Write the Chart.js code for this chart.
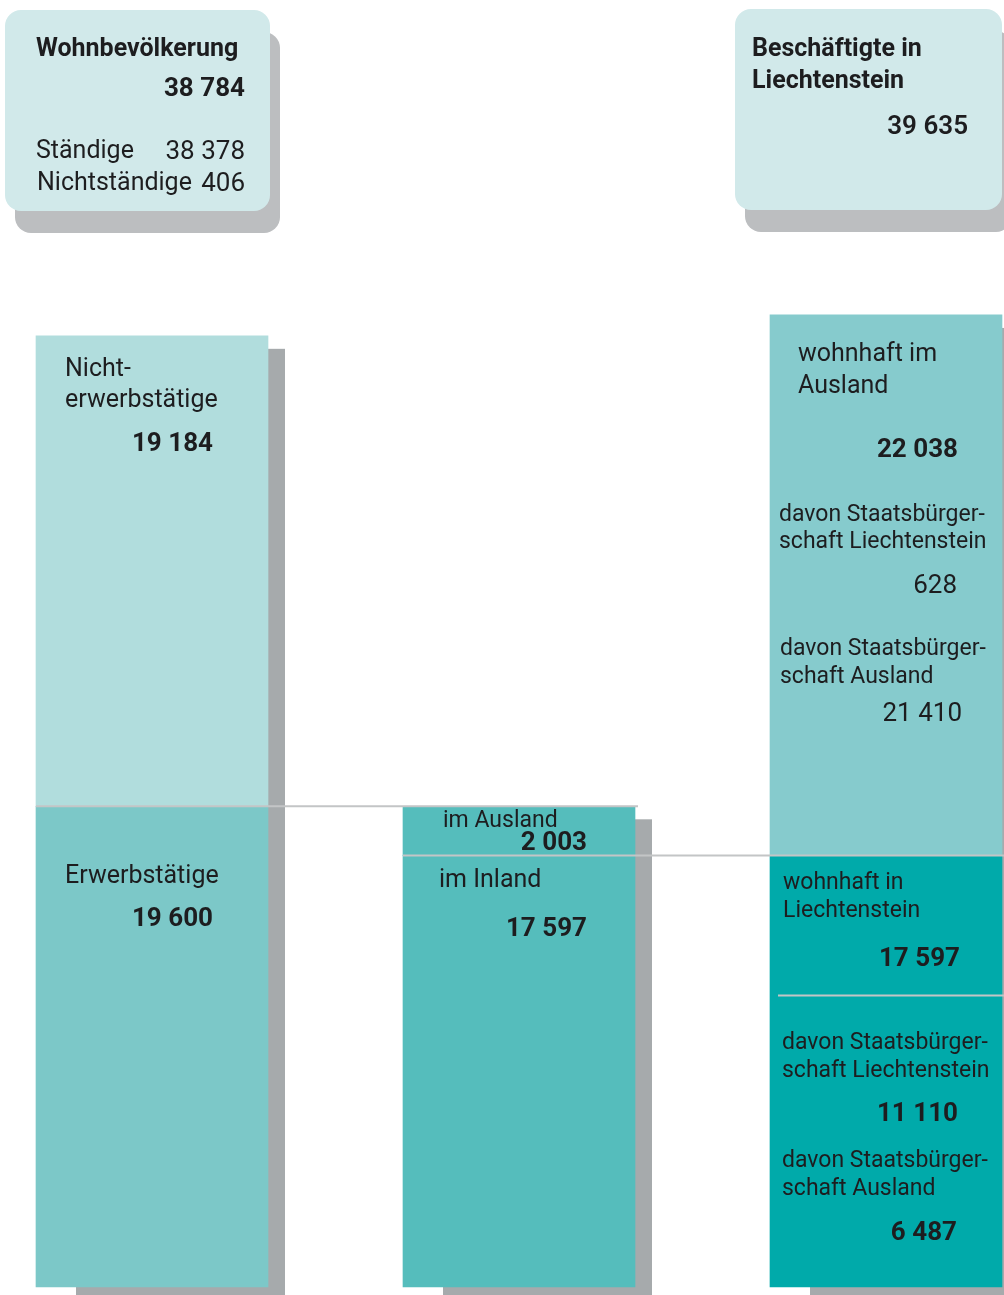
<!DOCTYPE html>
<html lang="de">
<head>
<meta charset="utf-8">
<title>Wohnbevölkerung und Beschäftigte in Liechtenstein</title>
<script src="https://cdn.jsdelivr.net/npm/chart.js@4"></script>
<style>
  html, body { margin: 0; padding: 0; background: #fff; }
  body { width: 1004px; height: 1295px; position: relative; overflow: hidden;
         font-family: Roboto, "Liberation Sans", sans-serif; color: #1d1d1f; }
  #chartBox { position: absolute; left: 0; top: 0; width: 1004px; height: 1295px; }
  .box { position: absolute; background: #d1e9ea; border-radius: 16px; box-shadow: 10px 22px 0 #bcbec0; }
  .t { position: absolute; font-size: 25px; line-height: 30px; white-space: nowrap; }
  .b { font-weight: bold; }
  .r { text-align: right; font-size: 26px; }
</style>
</head>
<body>
<div id="chartBox"><canvas id="flowChart"></canvas></div>

<div class="box" style="left:5px; top:10px; width:265px; height:201px;"></div>
<div class="t b" style="left:36px; top:33px;">Wohnbevölkerung</div>
<div class="t b r" id="totalResidents" style="right:759px; top:72px;"></div>
<div class="t" style="left:36px; top:135px;">Ständige</div>
<div class="t r" id="permanent" style="right:759px; top:135px;"></div>
<div class="t" style="left:37px; top:167px;">Nichtständige</div>
<div class="t r" id="nonPermanent" style="right:759px; top:167px;"></div>

<div class="box" style="left:735px; top:9px; width:267px; height:201px;"></div>
<div class="t b" style="left:752px; top:33px;">Beschäftigte in</div>
<div class="t b" style="left:752px; top:65px;">Liechtenstein</div>
<div class="t r" id="totalEmployed" style="right:36px; top:110px; font-weight:600;"></div>

<script>
// columns: Wohnbevölkerung | Erwerbstätige | Beschäftigte in Liechtenstein
const categories = ['Wohnbevölkerung', 'Erwerbstätige', 'Beschäftigte in Liechtenstein'];
// lower part: Erwerbstätige / im Inland / wohnhaft in Liechtenstein
const lowerValues = [19600, 17597, 17597];
// upper part: Nichterwerbstätige / im Ausland / wohnhaft im Ausland
const upperValues = [19184, 2003, 22038];
// Ständige, Nichtständige
const residentTypes = [38378, 406];
// wohnhaft im Ausland: davon Staatsbürgerschaft Liechtenstein, Ausland
const commuterCitizenship = [628, 21410];
// wohnhaft in Liechtenstein: davon Staatsbürgerschaft Liechtenstein, Ausland
const residentCitizenship = [11110, 6487];

const lowerColors = ['#7cc8c8', '#55bdbc', '#00aaaa'];
const upperColors = ['#b1dddd', '#55bdbc', '#86cbcd'];

const fmt = n => String(n).replace(/\B(?=(\d{3})+(?!\d))/g, ' ');

document.getElementById('totalResidents').textContent = fmt(lowerValues[0] + upperValues[0]);
document.getElementById('permanent').textContent = fmt(residentTypes[0]);
document.getElementById('nonPermanent').textContent = fmt(residentTypes[1]);
document.getElementById('totalEmployed').textContent = fmt(lowerValues[2] + upperValues[2]);

// text inside the bars: [text, dy from segment top, dx from bar left, align, style]
// style: b = bold number, n = plain number, s = small text, none = normal text
const segLabels = [
  { ds: 1, i: 0, lines: [
    ['Nicht-', 34, 29, 'left'], ['erwerbstätige', 65, 29, 'left'],
    [fmt(upperValues[0]), 109, 177, 'right', 'b']] },
  { ds: 0, i: 0, lines: [
    ['Erwerbstätige', 70, 29, 'left'], [fmt(lowerValues[0]), 113, 177, 'right', 'b']] },
  { ds: 1, i: 1, lines: [
    ['im Ausland', 15, 40, 'left', 's'], [fmt(upperValues[1]), 37, 184, 'right', 'b']] },
  { ds: 0, i: 1, lines: [
    ['im Inland', 25, 36, 'left'], [fmt(lowerValues[1]), 74, 184, 'right', 'b']] },
  { ds: 1, i: 2, lines: [
    ['wohnhaft im', 40, 28, 'left'], ['Ausland', 72, 28, 'left'],
    [fmt(upperValues[2]), 136, 188, 'right', 'b'],
    ['davon Staatsbürger-', 200, 9, 'left', 's'], ['schaft Liechtenstein', 227, 9, 'left', 's'],
    [fmt(commuterCitizenship[0]), 272, 187, 'right', 'n'],
    ['davon Staatsbürger-', 334, 10, 'left', 's'], ['schaft Ausland', 362, 10, 'left', 's'],
    [fmt(commuterCitizenship[1]), 400, 192, 'right', 'n']] },
  { ds: 0, i: 2, lines: [
    ['wohnhaft in', 28, 13, 'left', 's'], ['Liechtenstein', 56, 13, 'left', 's'],
    [fmt(lowerValues[2]), 104, 190, 'right', 'b'],
    ['davon Staatsbürger-', 188, 12, 'left', 's'], ['schaft Liechtenstein', 216, 12, 'left', 's'],
    [fmt(residentCitizenship[0]), 259, 188, 'right', 'b'],
    ['davon Staatsbürger-', 306, 12, 'left', 's'], ['schaft Ausland', 334, 12, 'left', 's'],
    [fmt(residentCitizenship[1]), 378, 187, 'right', 'b']] }
];

const FONT = 'Roboto, "Liberation Sans", sans-serif';

const flowPlugin = {
  id: 'flow',
  beforeDatasetsDraw(chart) {
    const ctx = chart.ctx;
    const low = chart.getDatasetMeta(0).data;
    const up = chart.getDatasetMeta(1).data;
    ctx.save();
    ctx.fillStyle = '#a6aaac';
    low.forEach((bar, i) => {
      const left = bar.x - bar.width / 2;
      const right = bar.x + bar.width / 2;
      ctx.fillRect(left + 40, up[i].y + 13, right + 17 - (left + 40), bar.base + 8 - (up[i].y + 13));
    });
    ctx.restore();
  },
  afterDatasetsDraw(chart) {
    const ctx = chart.ctx;
    const low = chart.getDatasetMeta(0).data;
    const edge = b => [b.x - b.width / 2, b.x + b.width / 2];
    ctx.save();
    ctx.strokeStyle = '#c3c5c6';
    ctx.lineWidth = 2;
    ctx.beginPath();
    // Erwerbstätige -> im Ausland + im Inland
    ctx.moveTo(edge(low[0])[0], low[0].y);
    ctx.lineTo(edge(low[1])[1] + 3, low[0].y);
    // im Inland -> wohnhaft in Liechtenstein
    ctx.moveTo(edge(low[1])[0], low[1].y);
    ctx.lineTo(edge(low[2])[1] + 5, low[1].y);
    // divider inside wohnhaft in Liechtenstein
    ctx.moveTo(edge(low[2])[0] + 8, low[2].y + 140);
    ctx.lineTo(edge(low[2])[1] + 5, low[2].y + 140);
    ctx.stroke();

    ctx.fillStyle = '#1d1d1f';
    ctx.textBaseline = 'middle';
    segLabels.forEach(seg => {
      const bar = chart.getDatasetMeta(seg.ds).data[seg.i];
      const left = bar.x - bar.width / 2;
      seg.lines.forEach(([txt, dy, dx, align, style]) => {
        if (style === 'b') ctx.font = 'bold 26px ' + FONT;
        else if (style === 'n') ctx.font = '26px ' + FONT;
        else if (style === 's') ctx.font = '23px ' + FONT;
        else ctx.font = '25px ' + FONT;
        ctx.textAlign = align;
        ctx.fillText(txt, left + dx, bar.y + dy);
      });
    });
    ctx.restore();
  }
};

new Chart(document.getElementById('flowChart'), {
  type: 'bar',
  data: {
    labels: categories,
    datasets: [
      { label: 'unten', data: lowerValues, backgroundColor: lowerColors, borderWidth: 0, clip: false },
      { label: 'oben', data: upperValues, backgroundColor: upperColors, borderWidth: 0, clip: false }
    ]
  },
  options: {
    responsive: true,
    maintainAspectRatio: false,
    animation: false,
    barThickness: 232,
    layout: { padding: { left: 152, right: 118, top: 306, bottom: 8 } },
    plugins: { legend: { display: false }, tooltip: { enabled: false } },
    scales: {
      x: { stacked: true, offset: false, display: false, grid: { display: false } },
      y: { stacked: true, min: 0, max: 40000, display: false, grid: { display: false } }
    }
  },
  plugins: [flowPlugin]
});
</script>
</body>
</html>
